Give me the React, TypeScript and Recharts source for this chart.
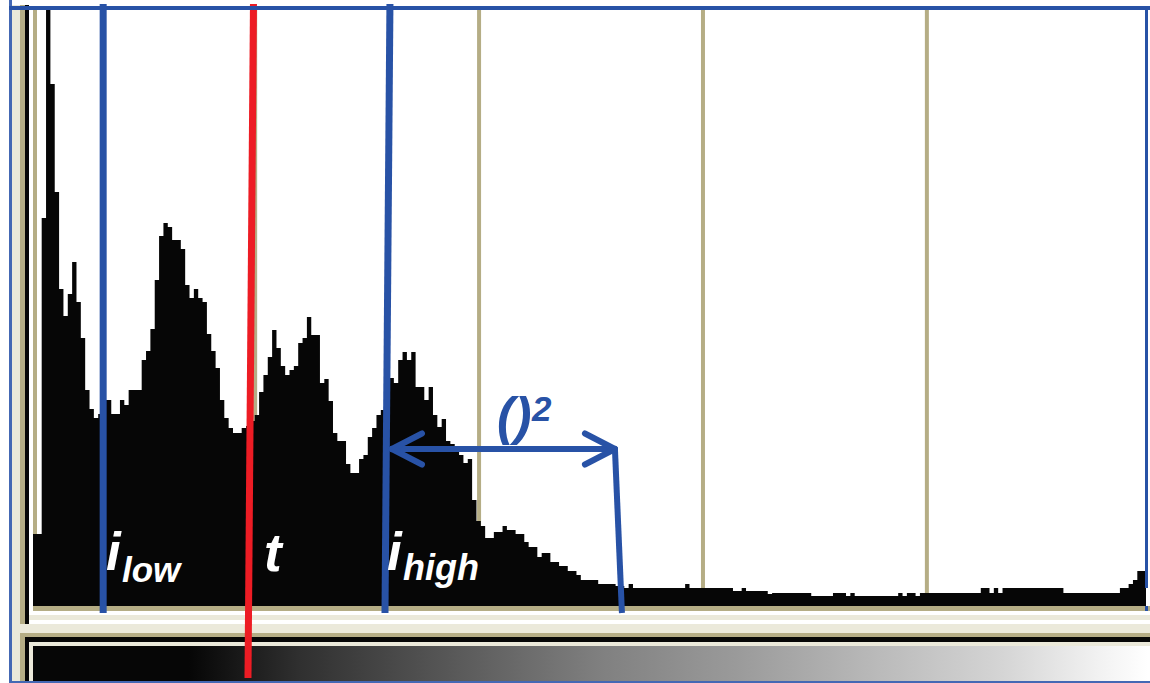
import React from 'react';
import { ComposedChart, Area, XAxis, YAxis, ReferenceLine } from 'recharts';

// histogram counts, one per grey level (0..255)
const counts = [
  72, 72, 388, 650, 522, 414, 317, 290, 312, 344, 304, 268, 216, 197, 188, 192,
  206, 206, 192, 192, 206, 201, 216, 216, 216, 246, 255, 277, 326, 370, 383, 379,
  366, 366, 357, 321, 308, 317, 308, 304, 272, 255, 238, 206, 188, 178, 173, 173,
  178, 180, 185, 191, 214, 231, 249, 276, 258, 240, 231, 236, 240, 263, 268, 289,
  271, 271, 223, 227, 205, 173, 165, 165, 142, 133, 133, 147, 151, 169, 178, 191,
  196, 215, 228, 223, 246, 254, 246, 254, 219, 219, 206, 219, 191, 179, 187, 165,
  162, 158, 151, 143, 147, 106, 85, 80, 68, 68, 74, 74, 80, 76, 76, 72,
  72, 64, 59, 59, 49, 53, 53, 44, 44, 40, 40, 35, 35, 31, 26, 26,
  26, 26, 22, 22, 22, 22, 20, 20, 18, 22, 18, 18, 18, 18, 18, 18,
  18, 18, 18, 18, 18, 18, 22, 18, 18, 18, 18, 18, 18, 18, 18, 18,
  18, 15, 15, 18, 15, 15, 15, 15, 15, 12, 13, 13, 13, 13, 13, 13,
  13, 13, 13, 10, 10, 10, 10, 10, 13, 13, 13, 10, 13, 10, 10, 10,
  10, 10, 10, 10, 10, 10, 10, 13, 10, 13, 13, 10, 13, 13, 13, 13,
  13, 13, 13, 13, 13, 13, 13, 13, 13, 13, 18, 18, 13, 18, 13, 18,
  18, 18, 18, 18, 18, 18, 18, 18, 18, 18, 18, 18, 18, 13, 13, 13,
  13, 13, 13, 13, 13, 13, 13, 13, 13, 13, 18, 18, 22, 26, 35, 35,
];

// vertical guide lines of the histogram window (in bins)
const gridBins = [0.46, 51.1, 102.6, 154.1, 205.6];

// thresholds (bin units); t and i_high are drawn slightly slanted
const iLow = 16.14;
const tLine = [50.71, 49.45];
const iHighLine = [82.1, 80.96];
const arrowY = 157;
const arrowLeft = 82.57;
const arrowRight = 133.85;
const arrowHeadDx = 6.9;
const arrowHeadDy = 15.5;
const dropEnd = 135.46;

const BLUE = '#2852a6';
const RED = '#ed1c24';
const KHAKI = '#b5ad85';
const CREAM = '#ebe9da';
const INK = '#060606';

const data = [
  ...counts.map((c, i) => ({ x: i, count: c })),
  { x: 256, count: counts[counts.length - 1] },
];

const box = (left: number, top: number, width: number, height: number, background: string): React.CSSProperties => ({
  position: 'absolute',
  left,
  top,
  width,
  height,
  background,
});

const labelFont = {
  fontFamily: '"Liberation Sans", Arial, sans-serif',
  fontWeight: 700,
  fontStyle: 'italic' as const,
};

export default function App() {
  const seg = (x1: number, y1: number, x2: number, y2: number, color: string, w: number, cap = 'butt') => (
    <ReferenceLine
      segment={[{ x: x1, y: y1 }, { x: x2, y: y2 }]}
      stroke={color}
      strokeWidth={w}
      strokeLinecap={cap as any}
      ifOverflow="visible"
      zIndex={1000}
    />
  );

  return (
    <div style={{ position: 'absolute', left: 0, top: 0, width: 1150, height: 683, background: '#fff', overflow: 'hidden' }}>
      {/* window frame */}
      <div style={box(9, 0, 3, 683, '#4468b4')} />
      <div style={box(12, 5, 8, 678, CREAM)} />
      <div style={box(20, 5, 5, 619, KHAKI)} />
      <div style={box(25, 5, 4, 619, INK)} />
      <div style={box(33, 606, 1117, 5, KHAKI)} />
      <div style={box(29, 615, 1121, 5, CREAM)} />
      <div style={box(12, 624, 1138, 9, CREAM)} />
      <div style={box(20, 633, 1130, 4, KHAKI)} />
      <div style={box(20, 633, 5, 50, KHAKI)} />
      <div style={box(25, 637, 1125, 5, INK)} />
      <div style={box(25, 637, 4, 46, INK)} />
      <div style={box(29, 642, 1121, 4, CREAM)} />
      <div style={box(29, 642, 4, 41, CREAM)} />
      <div
        style={box(
          33,
          646,
          1115,
          36,
          'linear-gradient(to right, #060606 0%, #060606 14%, #303030 24%, #808080 51%, #9a9a9a 63%, #b8b8b8 75%, #d5d5d5 87%, #f3f3f3 96%, #ffffff 100%)'
        )}
      />
      <div style={box(9, 681, 1141, 2, '#4468b4')} />

      <div style={{ position: 'absolute', left: 33, top: 0 }}>
        <ComposedChart width={1113} height={683} data={data} margin={{ top: 6, right: 0, bottom: 77, left: 0 }}>
          <XAxis dataKey="x" type="number" domain={[0, 256]} allowDataOverflow hide />
          <YAxis type="number" domain={[0, 600]} allowDataOverflow hide />
          {gridBins.map((g) => (
            <ReferenceLine key={g} x={g} stroke={KHAKI} strokeWidth={4} zIndex={-10} />
          ))}
          <Area
            type="stepAfter"
            dataKey="count"
            fill={INK}
            fillOpacity={1}
            stroke="none"
            isAnimationActive={false}
          />
          {seg(iLow, 602, iLow, -7, BLUE, 7)}
          {seg(tLine[0], 602, tLine[1], -72, RED, 7)}
          {seg(iHighLine[0], 602, iHighLine[1], -7, BLUE, 7)}
          {seg(arrowLeft, arrowY, arrowRight, arrowY, BLUE, 6, 'round')}
          {seg(arrowLeft, arrowY, arrowLeft + arrowHeadDx, arrowY + arrowHeadDy, BLUE, 6, 'round')}
          {seg(arrowLeft, arrowY, arrowLeft + arrowHeadDx, arrowY - arrowHeadDy, BLUE, 6, 'round')}
          {seg(arrowRight, arrowY, arrowRight - arrowHeadDx, arrowY + arrowHeadDy, BLUE, 6, 'round')}
          {seg(arrowRight, arrowY, arrowRight - arrowHeadDx, arrowY - arrowHeadDy, BLUE, 6, 'round')}
          {seg(arrowRight, arrowY, dropEnd, -7, BLUE, 6)}
        </ComposedChart>
      </div>

      {/* frame lines drawn over the plot */}
      <div style={box(9, 6, 1141, 4, BLUE)} />
      <div style={box(1145, 6, 3, 582, BLUE)} />
      <div style={box(1145, 606, 3, 5, BLUE)} />

      <svg width={1150} height={683} style={{ position: 'absolute', left: 0, top: 0, pointerEvents: 'none' }}>
        <g fill="#fff" {...labelFont}>
          <text x={106} y={570} fontSize={53}>i</text>
          <text x={122} y={582} fontSize={35}>low</text>
          <text x={264} y={571} fontSize={53}>t</text>
          <text x={387} y={570} fontSize={53}>i</text>
          <text x={403} y={580} fontSize={36}>high</text>
        </g>
        <g fill={BLUE} {...labelFont}>
          <text x={497} y={434} fontSize={52}>()</text>
          <text x={532} y={421} fontSize={35}>2</text>
        </g>
      </svg>
    </div>
  );
}
